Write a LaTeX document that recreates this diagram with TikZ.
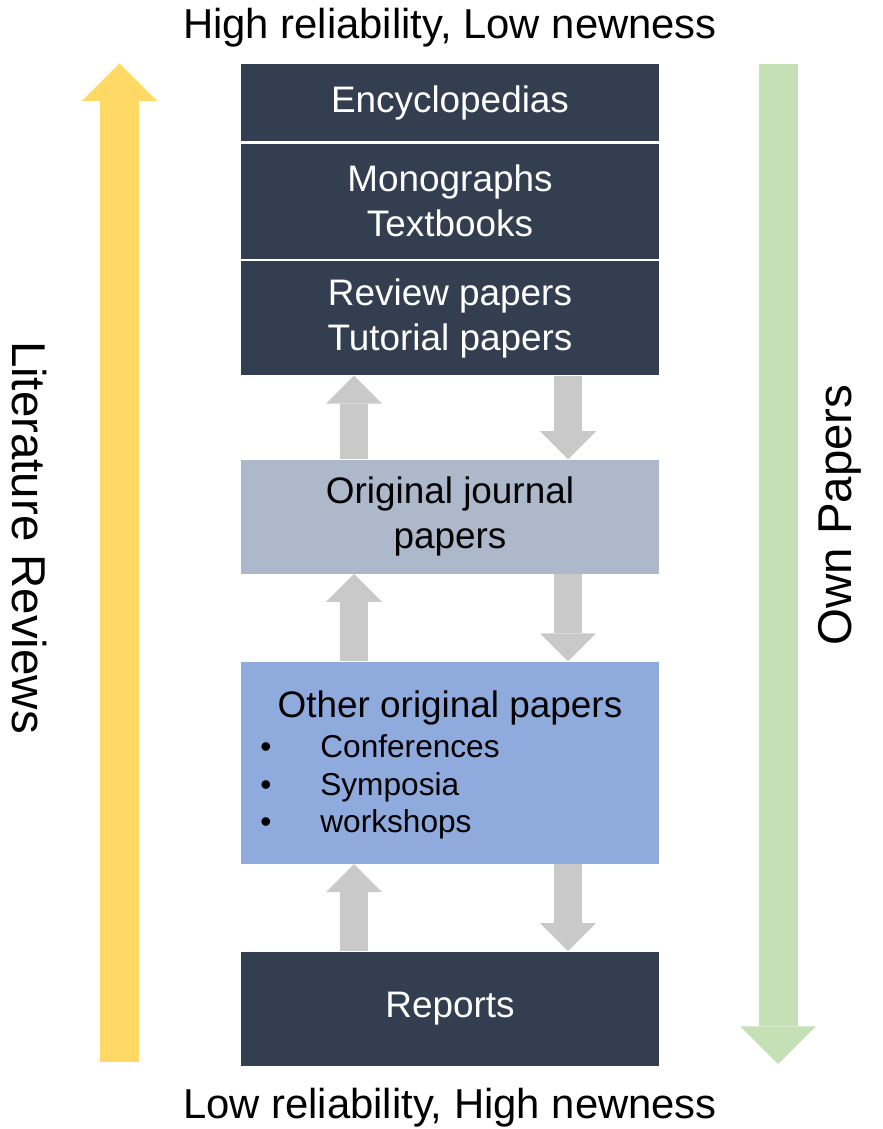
\documentclass[tikz,border=0pt]{standalone}
\usepackage{fontspec}
\setmainfont{Liberation Sans}
\usepackage{tikz}
\usetikzlibrary{%
  arrows.meta,% wg. Triangle
  positioning% wg. " of "
}
\definecolor{navy}{HTML}{333F50}
\definecolor{greyblue}{HTML}{ADB9CA}
\definecolor{lightblue}{HTML}{8FAADC}
\definecolor{arrowgray}{HTML}{C9C9C9}
\definecolor{lityellow}{HTML}{FFD966}
\definecolor{owngreen}{HTML}{C5E0B4}

\tikzset{
  box/.style={minimum width=8.36cm, inner sep=0pt, align=center,
    font=\fontsize{21}{25.5}\selectfont},
  darkbox/.style={box, fill=navy, text=white},
  updown/.style={line width=0.56cm, arrowgray,
    -{Triangle[length=0.56cm, width=1.12cm, line width=0pt]}},
  bigarrow/.style={line width=0.78cm,
    -{Triangle[length=0.75cm, width=1.51cm, line width=0pt]}},
  sidelabel/.style={anchor=base, font=\fontsize{27}{32}\selectfont},
  endlabel/.style={anchor=base, font=\fontsize{23.8}{28}\selectfont}
}

\begin{document}
\begin{tikzpicture}
\useasboundingbox (0,0) rectangle (17.64,22.58);
\coordinate (litbot) at (2.39, 1.34);
\coordinate (littop) at (2.39, 21.31);
\coordinate (owntop) at (15.56, 21.30);
\coordinate (ownbot) at (15.56, 1.30);
\draw [bigarrow, lityellow] (litbot) -- (littop);
\draw [bigarrow, owngreen] (owntop) -- (ownbot);

\node [darkbox, minimum height=1.54cm] (enc) at (9.0, 20.53) {Encyclopedias};
\node [darkbox, minimum height=2.30cm, below=0.04cm of enc] (mono) {Monographs\\Textbooks};
\node [darkbox, minimum height=2.28cm, below=0.04cm of mono] (rev) {Review papers\\Tutorial papers};
\node [box, fill=greyblue, minimum height=2.28cm, below=1.67cm of rev] (jour) {Original journal\\papers};
\node [box, fill=lightblue, minimum height=4.04cm, below=1.75cm of jour] (other) {};
\node [darkbox, minimum height=2.28cm, below=1.74cm of other] (rep) {Reports};

\node [anchor=base, font=\fontsize{21}{25}\selectfont] (othertitle) at (9.0, 8.22) {Other original papers};
\foreach \txt [count=\i] in {Conferences, Symposia, workshops}
  \node [anchor=base west, inner sep=0pt, font=\fontsize{18}{22}\selectfont] (item\i)
    at (5.20, 8.17-0.75*\i) {\makebox[1.2cm][l]{\textbullet}\txt};

\foreach \a/\b in {rev/jour, jour/other, other/rep} {
  \draw [updown] ([xshift=-1.92cm]\b.north) -- ([xshift=-1.92cm]\a.south);
  \draw [updown] ([xshift=2.36cm]\a.south) -- ([xshift=2.36cm]\b.north);
}

\node [endlabel] (toplabel) at (9.0, 21.80) {High reliability, Low newness};
\node [endlabel] (botlabel) at (9.0, 0.22) {Low reliability, High newness};
\node [sidelabel, rotate=-90] (litlabel) at (0.26, 11.83) {Literature Reviews};
\node [sidelabel, rotate=90] (ownlabel) at (17.03, 12.28) {Own Papers};
\end{tikzpicture}
\end{document}
